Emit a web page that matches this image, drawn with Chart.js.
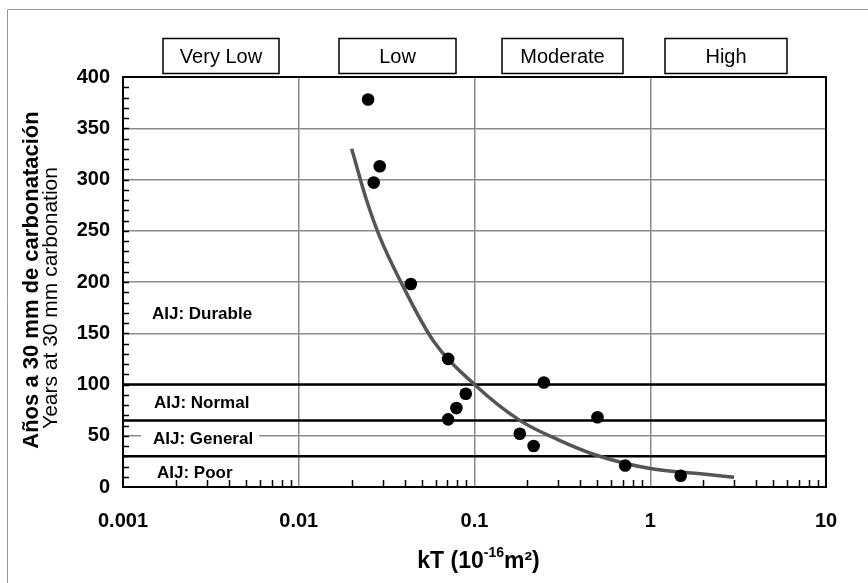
<!DOCTYPE html>
<html>
<head>
<meta charset="utf-8">
<script src="https://cdn.jsdelivr.net/npm/chart.js@4.4.1/dist/chart.umd.min.js"></script>
<style>
  body { margin: 0; background: #fff; }
  canvas { display: block; }
</style>
</head>
<body>
<canvas id="grafico" width="868" height="583"></canvas>
<script>
// Datos medidos (kT en 10^-16 m2, años a 30 mm)
const kT = [0.0248, 0.0289, 0.0267, 0.0434, 0.0708, 0.248, 0.0892, 0.0789, 0.0708, 0.501, 0.181, 0.217, 0.72, 1.49];
const anos = [378, 313, 297, 198, 125, 102, 91, 77, 66, 68, 52, 40, 21, 11];

// Curva de ajuste
const curvaKT = [0.02, 0.0243, 0.0289, 0.0376, 0.0581, 0.1, 0.181, 0.3, 0.494, 1, 2, 3];
const curvaAnos = [330, 280, 244, 202, 143, 100, 65, 46, 31, 18, 12.7, 9.5];

// Límites AIJ
const limites = [100, 65, 30];
const etiquetasAIJ = ['AIJ: Durable', 'AIJ: Normal', 'AIJ: General', 'AIJ: Poor'];
const categorias = ['Very Low', 'Low', 'Moderate', 'High'];

const xTicks = ['0.001', '0.01', '0.1', '1', '10'];
const yTicks = [0, 50, 100, 150, 200, 250, 300, 350, 400];

// Posiciones de rótulos (layout)
const aijPos = [[152, 168], [154, 82], [153, 46.8], [157, 13.6]];
const cajas = [[163, 279], [339, 456], [502, 623], [665, 787]];

const FONT = '"Liberation Sans", Arial, sans-serif';
const decadas = xTicks.map(Number);
const esDecada = v => decadas.some(d => Math.abs(v - d) / d < 1e-6);

const extras = {
  id: 'extras',
  beforeDatasetsDraw(chart) {
    const { ctx } = chart;
    const y = chart.scales.y;
    ctx.save();
    ctx.font = 'bold 17px ' + FONT;
    ctx.textBaseline = 'middle';
    etiquetasAIJ.forEach((t, i) => {
      const px = aijPos[i][0], py = y.getPixelForValue(aijPos[i][1]);
      const w = ctx.measureText(t).width;
      ctx.fillStyle = '#fff';
      ctx.fillRect(px - 12, py - 8, w + 18, 16);
      ctx.fillStyle = '#000';
      ctx.fillText(t, px, py);
    });
    ctx.restore();
  },
  afterDraw(chart) {
    const { ctx, chartArea: a } = chart;
    const x = chart.scales.x, y = chart.scales.y;
    ctx.save();
    // marcas menores
    ctx.strokeStyle = '#000';
    ctx.lineWidth = 1.5;
    ctx.beginPath();
    for (let v = 10; v < 400; v += 10) {
      const py = Math.round(y.getPixelForValue(v)) + 0.5;
      ctx.moveTo(a.left, py); ctx.lineTo(a.left + 6, py);
    }
    x.ticks.forEach(t => {
      if (esDecada(t.value)) return;
      const px = Math.round(x.getPixelForValue(t.value)) + 0.5;
      ctx.moveTo(px, a.bottom); ctx.lineTo(px, a.bottom - 7);
    });
    ctx.stroke();
    // borde del área
    ctx.lineWidth = 2;
    ctx.strokeRect(a.left, a.top, a.right - a.left, a.bottom - a.top);

    // marco exterior
    ctx.strokeStyle = '#999';
    ctx.lineWidth = 1;
    ctx.beginPath();
    ctx.moveTo(7.5, 583); ctx.lineTo(7.5, 9.5); ctx.lineTo(868, 9.5);
    ctx.stroke();

    // cajas de categorías
    ctx.strokeStyle = '#000';
    ctx.lineWidth = 1.5;
    ctx.font = '20px ' + FONT;
    ctx.textAlign = 'center';
    ctx.textBaseline = 'alphabetic';
    ctx.fillStyle = '#000';
    cajas.forEach((c, i) => {
      ctx.fillStyle = '#fff';
      ctx.fillRect(c[0], 38.5, c[1] - c[0], 35);
      ctx.strokeRect(c[0], 38.5, c[1] - c[0], 35);
      ctx.fillStyle = '#000';
      ctx.fillText(categorias[i], (c[0] + c[1]) / 2, 63);
    });

    // título eje X: kT (10^-16 m²)
    const big = 'bold 23px ' + FONT, small = 'bold 14px ' + FONT;
    const p1 = 'kT (10', p2 = '-16', p3 = 'm²)';
    ctx.font = big; const w1 = ctx.measureText(p1).width, w3 = ctx.measureText(p3).width;
    ctx.font = small; const w2 = ctx.measureText(p2).width;
    let sx = (a.left + a.right) / 2 + 4 - (w1 + w2 + w3) / 2;
    const by = 568;
    ctx.textAlign = 'left';
    ctx.font = big; ctx.fillText(p1, sx, by); sx += w1;
    ctx.font = small; ctx.fillText(p2, sx, by - 11); sx += w2;
    ctx.font = big; ctx.fillText(p3, sx, by);

    // títulos eje Y
    ctx.textAlign = 'center';
    ctx.save();
    ctx.translate(38, 280);
    ctx.rotate(-Math.PI / 2);
    ctx.font = 'bold 22px ' + FONT;
    ctx.fillText('Años a 30 mm de carbonatación', 0, 0);
    ctx.restore();
    ctx.save();
    ctx.translate(57, 298);
    ctx.rotate(-Math.PI / 2);
    ctx.font = '21px ' + FONT;
    ctx.fillText('Years at 30 mm carbonation', 0, 0);
    ctx.restore();
    ctx.restore();
  }
};

const linea = v => [{ x: decadas[0], y: v }, { x: decadas[decadas.length - 1], y: v }];

new Chart(document.getElementById('grafico'), {
  type: 'scatter',
  data: {
    datasets: [
      {
        label: 'Datos',
        data: kT.map((v, i) => ({ x: v, y: anos[i] })),
        backgroundColor: '#000',
        borderWidth: 0,
        pointRadius: 6.3
      },
      {
        label: 'Ajuste',
        type: 'line',
        data: curvaKT.map((v, i) => ({ x: v, y: curvaAnos[i] })),
        borderColor: '#555',
        borderWidth: 3.5,
        pointRadius: 0,
        cubicInterpolationMode: 'monotone',
        fill: false
      },
      ...limites.map(v => ({
        label: 'AIJ ' + v,
        type: 'line',
        data: linea(v),
        borderColor: '#000',
        borderWidth: 2.5,
        pointRadius: 0,
        fill: false
      }))
    ]
  },
  options: {
    responsive: false,
    animation: false,
    layout: { padding: { left: 0, right: 42, top: 77, bottom: 0 } },
    plugins: { legend: { display: false }, tooltip: { enabled: false } },
    scales: {
      x: {
        type: 'logarithmic',
        min: decadas[0],
        max: decadas[decadas.length - 1],
        afterBuildTicks: s => {
          const t = [];
          decadas.forEach((d, i) => {
            if (i === decadas.length - 1) { t.push({ value: d }); return; }
            for (let k = 1; k < 10; k++) t.push({ value: +(d * k).toPrecision(6) });
          });
          s.ticks = t;
        },
        afterFit: s => { s.height = 96; },
        grid: {
          color: c => (c.tick && esDecada(c.tick.value)) ? '#8c8c8c' : 'rgba(0,0,0,0)',
          lineWidth: 1.5,
          drawTicks: false
        },
        border: { display: false },
        ticks: {
          autoSkip: false,
          maxRotation: 0,
          padding: 22,
          color: '#000',
          font: { family: FONT, size: 20, weight: 'bold' },
          callback: v => {
            const i = decadas.findIndex(d => Math.abs(v - d) / d < 1e-6);
            return i >= 0 ? xTicks[i] : '';
          }
        }
      },
      y: {
        min: yTicks[0],
        max: yTicks[yTicks.length - 1],
        afterFit: s => { s.width = 123; },
        grid: { color: '#8c8c8c', lineWidth: 1.5, drawTicks: false },
        border: { display: false },
        ticks: {
          stepSize: 50,
          padding: 13,
          color: '#000',
          font: { family: FONT, size: 20, weight: 'bold' }
        }
      }
    }
  },
  plugins: [extras]
});
</script>
</body>
</html>
